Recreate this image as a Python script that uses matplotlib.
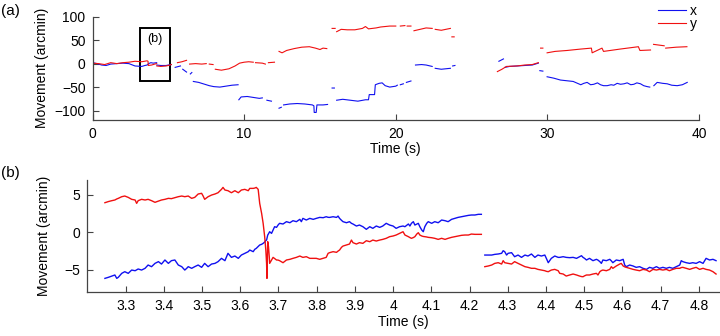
import matplotlib
matplotlib.use('Agg')
import matplotlib.pyplot as plt
import numpy as np
from matplotlib.patches import Rectangle

plt.rcParams['font.family'] = ['Liberation Sans', 'DejaVu Sans']
plt.rcParams['font.size'] = 10

nan = np.nan

# ---- panel (a): whole recording, x / y movement in arcmin (nan = gap)
ta_x = [0, 0.3, 0.6, 0.9, 1.2, 1.6, 2.0, 2.4, 2.8, 3.25, 3.45, 3.6, 3.7, 3.85, 4.0, 4.23, nan,
        4.24, 4.5, 4.85, 5.0, 5.2, nan,
        5.45, 5.8, nan, 5.95, 6.2, nan, 6.45, 6.55, nan,
        6.65, 7.0, 7.3, 7.7, 8.0, 8.4, 8.8, 9.2, 9.6, nan,
        9.65, 9.8, 10.2, 10.6, 11.0, 11.2, nan, 11.5, 11.8, nan, 12.3, 12.45, nan,
        12.6, 13.0, 13.5, 14.0, 14.5, 14.6, 14.62, 14.75, 14.8, 15.2, 15.5, nan,
        15.8, 15.95, nan,
        16.1, 16.5, 17.0, 17.5, 18.0, 18.2, 18.25, 18.6, 18.65, 18.9, 19.1, 19.3, 19.6, 20.0, 20.1, nan,
        20.3, 20.5, nan, 20.7, 21.0, nan,
        21.3, 21.7, 22.0, 22.4, nan, 22.6, 23.0, 23.3, 23.6, nan, 23.75, 23.9, nan,
        26.8, 27.1, nan,
        27.2, 27.5, 28.0, 28.5, 29.0, 29.4, nan, 29.5, 29.7, nan,
        29.98, 30.42, 30.86, 31.7, 32.2, 32.4, 32.62, 32.85, 33.06, 33.3, 33.5, 33.7, 33.94,
        34.2, 34.38, 34.6, 34.82, 35.05, 35.26, 35.5, 35.7, 35.9, 36.14, 36.35, 36.58, 36.75, nan,
        37.02, 37.24, 37.6, 37.9, 38.2, 38.56, 38.9, 39.22]
xa = [2, 0, -3, -4, -1, 0, 1, 0, -5, -6, -4, -3, 0, 2, 1, 2, nan,
      -3, -4, -4, -3, -2, nan,
      -8, -5, nan, -12, -18, nan, -22, -19, nan,
      -38, -40, -43, -47, -49, -50, -48, -46, -45, nan,
      -77, -71, -70, -72, -74, -73, nan, -78, -80, nan, -95, -93, nan,
      -88, -86, -85, -86, -88, -90, -104, -104, -88, -88, -87, nan,
      -52, -52, nan,
      -78, -76, -78, -80, -77, -77, -66, -66, -45, -42, -41, -47, -50, -48, -46, nan,
      -45, -43, nan, -40, -37, nan,
      -3, -2, -3, -6, nan, -10, -12, -11, -10, nan, -5, -4, nan,
      5, 10, nan,
      -8, -6, -5, -4, -3, 1, nan, -15, -16, nan,
      -28, -31, -35, -38, -45, -42, -40, -45, -44, -41, -45, -47, -47,
      -45, -46, -42, -44, -43, -41, -45, -44, -41, -43, -47, -49, -50, nan,
      -47, -40, -42, -43, -46, -47, -45, -40]

ta_y = [0, 0.4, 0.8, 1.2, 1.6, 2.0, 2.4, 2.8, 3.25, 3.6, 3.66, 3.68, 3.9, 4.1, 4.23, nan,
        4.24, 4.5, 4.85, 5.0, 5.2, nan,
        5.6, 5.9, 6.2, nan, 6.4, 6.8, 7.2, 7.5, nan, 7.7, 7.95, nan,
        8.1, 8.5, 9.0, 9.4, 9.7, 10.0, 10.3, 10.6, nan, 10.75, 11.2, 11.4, nan, 11.6, 12.0, nan,
        12.3, 12.5, 12.8, 13.3, 13.8, 14.3, 14.7, 15.0, 15.2, 15.45, nan,
        15.8, 16.0, nan,
        16.1, 16.4, 16.8, 17.3, 17.8, 18.0, 18.2, 18.7, 19.0, 19.3, 19.6, 20.0, nan,
        20.3, 20.6, nan, 20.75, 21.0, nan,
        21.2, 21.6, 22.0, 22.4, nan, 22.6, 23.0, 23.3, 23.6, nan, 23.7, 23.85, nan,
        26.7, 27.0, 27.3, 28.0, 28.5, 29.0, 29.4, nan, 29.55, 29.7, nan,
        29.98, 30.5, 31.3, 32.2, 32.9, 32.95, 33.6, 33.7, 34.8, 36.0, 36.1, 36.8, nan,
        37.0, 37.7, nan, 37.8, 38.5, 39.2]
ya = [1, 0, -2, 2, 0, 2, 3, 5, 4, 6, 5, -4, -3, -1, 0, nan,
      -5, -6, -5, -4, -2, nan,
      2, 4, 7, nan, -1, 0, -1, 0, nan, -1, -2, nan,
      -12, -14, -11, -5, 1, 3, 4, 3, nan, 2, 1, -1, nan, 2, 3, nan,
      26, 23, 28, 32, 35, 36, 33, 30, 33, 32, nan,
      75, 75, nan,
      68, 73, 72, 72, 75, 79, 74, 76, 78, 79, 80, 80, nan,
      80, 81, nan, 80, 80, nan,
      70, 73, 76, 75, nan, 73, 71, 73, 75, nan, 57, 57, nan,
      -17, -12, -6, -5, -3, -2, 2, nan, 33, 33, nan,
      23, 26, 28, 31, 33, 23, 33, 26, 31, 36, 28, 29, nan,
      41, 38, nan, 33, 35, 36]

# ---- panel (b): zoom 3.2 - 4.85 s, two pieces with a gap
tb1 = [3.246, 3.255, 3.264, 3.272, 3.277, 3.281, 3.290, 3.298, 3.307, 3.316, 3.325, 3.329,
       3.333, 3.342, 3.351, 3.359, 3.368, 3.377, 3.386, 3.394, 3.403, 3.412, 3.420, 3.429,
       3.438, 3.447, 3.455, 3.460, 3.464, 3.473, 3.481, 3.490, 3.499, 3.503, 3.507, 3.516,
       3.525, 3.534, 3.542, 3.551, 3.555, 3.560, 3.568, 3.577, 3.586, 3.595, 3.603, 3.612,
       3.621, 3.625, 3.634, 3.638, 3.642, 3.647, 3.651, 3.656, 3.660, 3.664, 3.667, 3.669,
       3.670, 3.672, 3.674, 3.676, 3.677, 3.682, 3.686, 3.690, 3.695, 3.699, 3.703, 3.712,
       3.721, 3.730, 3.738, 3.747, 3.756, 3.760, 3.764, 3.773, 3.782, 3.791, 3.799, 3.808,
       3.817, 3.825, 3.830, 3.834, 3.843, 3.852, 3.856, 3.860, 3.865, 3.869, 3.878, 3.886,
       3.891, 3.895, 3.904, 3.912, 3.921, 3.930, 3.939, 3.947, 3.956, 3.965, 3.973, 3.982,
       3.991, 4.000, 4.008, 4.017, 4.026, 4.031, 4.040, 4.044, 4.048, 4.053, 4.057, 4.062,
       4.066, 4.070, 4.075, 4.079, 4.083, 4.088, 4.092, 4.101, 4.109, 4.118, 4.127, 4.136,
       4.144, 4.153, 4.162, 4.170, 4.179, 4.188, 4.197, 4.205, 4.214, 4.223, 4.231]
xb1 = [-6.14, -6.0, -5.83, -5.69, -6.14, -6.0, -5.47, -5.25, -5.47, -5.03, -5.12, -5.0,
       -4.89, -5.03, -4.80, -4.36, -4.58, -4.14, -3.91, -4.23, -3.69, -4.14, -3.78, -3.69,
       -4.36, -4.58, -5.03, -4.80, -4.58, -4.80, -4.58, -4.36, -4.67, -4.4, -4.14, -4.58,
       -4.23, -4.14, -3.91, -3.47, -3.6, -3.78, -2.80, -3.34, -3.16, -3.47, -3.03, -2.80,
       -2.58, -2.36, -2.58, -2.27, -2.14, -1.9, -1.69, -1.6, -1.47, -1.3, -1.1, -1.03,
       -0.8, -0.36, -0.2, 0.0, 0.08, -0.14, 0.31, 0.75, 0.66, 0.97, 1.20, 1.11,
       1.42, 1.28, 1.55, 1.42, 1.73, 1.42, 1.86, 1.64, 1.86, 1.73, 1.86, 1.99,
       1.95, 2.08, 2.0, 1.99, 2.08, 1.99, 2.17, 1.86, 1.6, 1.42, 1.28, 1.42,
       1.2, 1.11, 0.84, 0.97, 0.75, 0.40, 0.75, 0.53, 0.84, 0.66, 0.84, 1.20,
       0.97, 0.84, 0.53, 0.75, 0.84, 0.75, 1.11, 0.84, 1.20, 1.42, 0.97, 1.1,
       1.20, 0.75, 0.31, 0.08, 0.75, 1.20, 1.42, 1.20, 1.42, 1.28, 1.64, 1.55,
       1.42, 1.73, 1.86, 1.99, 2.08, 2.17, 2.26, 2.31, 2.31, 2.40, 2.40]
yb1 = [3.95, 4.1, 4.22, 4.31, 4.45, 4.53, 4.75, 4.84, 4.66, 4.40, 4.31, 3.86,
       4.22, 4.40, 4.31, 4.40, 4.22, 4.0, 4.17, 4.31, 4.40, 4.53, 4.49, 4.62,
       4.75, 4.84, 4.75, 4.8, 4.84, 4.53, 4.66, 5.11, 5.20, 4.84, 4.40, 4.75,
       4.97, 5.11, 5.28, 5.73, 5.99, 5.64, 5.55, 5.28, 5.55, 5.28, 5.64, 5.73,
       5.55, 5.86, 5.86, 5.9, 5.99, 5.73, 3.86, 2.53, 1.20, -0.58, -2.36, -4.14,
       -6.14, -1.25, -1.92, -3.25, -4.14, -3.69, -3.34, -3.5, -3.69, -3.7, -3.78, -4.05,
       -3.69, -3.60, -3.47, -3.34, -3.16, -3.25, -3.34, -3.25, -3.47, -3.47, -3.47, -3.60,
       -3.47, -3.34, -2.80, -2.71, -2.58, -2.67, -2.5, -2.36, -2.0, -1.83, -1.69, -1.56,
       -1.03, -1.38, -1.56, -1.38, -1.47, -1.12, -1.25, -1.03, -1.16, -1.03, -0.94, -0.80,
       -0.58, -0.49, -0.36, -0.14, 0.08, -0.36, -0.58, -0.7, -0.80, -0.7, -0.58, -0.23,
       -0.05, -0.36, -0.49, -0.55, -0.58, -0.62, -0.67, -0.72, -0.80, -0.94, -0.80, -0.94,
       -0.80, -0.67, -0.58, -0.49, -0.40, -0.36, -0.36, -0.23, -0.27, -0.27, -0.27]

tb2 = [4.240, 4.249, 4.258, 4.266, 4.275, 4.284, 4.288, 4.292, 4.297, 4.301, 4.310, 4.318,
       4.327, 4.336, 4.345, 4.353, 4.362, 4.371, 4.379, 4.388, 4.397, 4.401, 4.406, 4.414,
       4.423, 4.432, 4.436, 4.445, 4.453, 4.462, 4.471, 4.480, 4.488, 4.493, 4.497, 4.501,
       4.506, 4.514, 4.523, 4.532, 4.536, 4.541, 4.545, 4.549, 4.558, 4.567, 4.571, 4.575,
       4.584, 4.593, 4.597, 4.602, 4.606, 4.610, 4.619, 4.628, 4.636, 4.645, 4.654, 4.663,
       4.671, 4.680, 4.689, 4.697, 4.706, 4.715, 4.723, 4.732, 4.741, 4.750, 4.754, 4.758,
       4.767, 4.776, 4.784, 4.793, 4.802, 4.811, 4.819, 4.828, 4.837, 4.845]
xb2 = [-3.03, -3.03, -3.03, -2.94, -2.89, -2.80, -2.45, -2.58, -3.03, -2.80, -2.71, -3.25,
       -3.03, -3.34, -3.03, -3.16, -2.89, -3.34, -3.03, -3.16, -3.03, -3.47, -4.05, -3.47,
       -3.16, -3.34, -3.34, -3.25, -3.34, -3.38, -3.34, -3.47, -3.25, -3.12, -3.34, -3.47,
       -3.69, -3.47, -3.78, -3.60, -3.7, -3.91, -4.14, -3.69, -3.78, -3.60, -3.8, -4.05,
       -3.69, -3.78, -3.7, -3.60, -4.36, -4.58, -4.36, -4.49, -4.67, -4.58, -4.80, -4.94,
       -4.67, -4.80, -4.58, -4.80, -4.67, -4.80, -4.67, -4.80, -4.58, -4.36, -3.78, -3.91,
       -4.05, -4.14, -4.05, -4.14, -3.91, -4.14, -3.47, -3.69, -3.60, -3.78]
yb2 = [-4.58, -4.49, -4.36, -4.14, -4.05, -4.23, -3.78, -4.05, -4.1, -4.14, -4.23, -3.91,
       -4.14, -4.36, -4.58, -4.67, -4.80, -4.80, -4.94, -5.03, -5.12, -5.2, -5.25, -5.03,
       -4.94, -5.12, -5.47, -5.56, -5.83, -5.69, -5.56, -5.69, -5.83, -5.9, -5.92, -5.8,
       -5.69, -5.69, -5.56, -5.47, -5.69, -5.25, -5.1, -5.03, -5.12, -4.94, -4.58, -4.80,
       -4.49, -4.23, -4.14, -4.49, -4.6, -4.67, -4.80, -4.94, -5.03, -5.12, -4.94, -5.03,
       -5.25, -4.94, -5.03, -4.94, -5.03, -4.94, -5.12, -4.94, -4.80, -4.80, -4.7, -4.67,
       -4.80, -4.94, -4.80, -4.67, -4.94, -4.80, -4.94, -5.03, -5.25, -5.56]

xticks_b = [3.3, 3.4, 3.5, 3.6, 3.7, 3.8, 3.9, 4.0, 4.1, 4.2, 4.3, 4.4, 4.5, 4.6, 4.7, 4.8]
xticklabels_b = ['3.3', '3.4', '3.5', '3.6', '3.7', '3.8', '3.9', '4',
                 '4.1', '4.2', '4.3', '4.4', '4.5', '4.6', '4.7', '4.8']

blue = '#1010f0'
red = '#f01010'

fig = plt.figure(figsize=(7.2, 3.36), dpi=100)
ax1 = fig.add_axes([0.1285, 0.643, 0.8424, 0.3074])
ax2 = fig.add_axes([0.1213, 0.130, 0.8785, 0.3348])

for ax in (ax1, ax2):
    for s in ('top', 'right'):
        ax.spines[s].set_visible(False)
    for s in ('left', 'bottom'):
        ax.spines[s].set_color('#444444')
        ax.spines[s].set_linewidth(0.9)
    ax.tick_params(direction='in', length=4, width=0.8, color='#444444',
                   labelsize=10, pad=5)

ax1.plot(ta_x, xa, color=blue, lw=0.8, label='x')
ax1.plot(ta_y, ya, color=red, lw=0.8, label='y')
ax1.set_xlim(0, 40)
ax1.set_ylim(-120, 100)
ax1.set_xticks([0, 10, 20, 30, 40])
ax1.set_yticks([-100, -50, 0, 50, 100])
ax1.set_xlabel('Time (s)', labelpad=1)
ax1.set_ylabel('Movement (arcmin)', labelpad=4)
ax1.add_patch(Rectangle((3.1, -36), 2.0, 111, fill=False, ec='black', lw=1.4))
ax1.text(4.1, 52, '(b)', ha='center', va='center', fontsize=9)
fig.legend(*ax1.get_legend_handles_labels(), loc='upper right',
           bbox_to_anchor=(0.975, 1.005), frameon=False, handlelength=2.0,
           handletextpad=0.25, labelspacing=-0.05, fontsize=10, borderaxespad=0)

ax2.plot(tb1, xb1, color=blue, lw=1.0)
ax2.plot(tb1, yb1, color=red, lw=1.0)
ax2.plot(tb2, xb2, color=blue, lw=1.0)
ax2.plot(tb2, yb2, color=red, lw=1.0)
ax2.set_xlim(3.2, 4.855)
ax2.set_ylim(-8, 7)
ax2.set_xticks(xticks_b)
ax2.set_xticklabels(xticklabels_b)
ax2.set_yticks([-5, 0, 5])
ax2.set_xlabel('Time (s)', labelpad=1)
ax2.set_ylabel('Movement (arcmin)', labelpad=10)

fig.text(0.002, 0.968, '(a)', fontsize=11, va='center')
fig.text(0.002, 0.485, '(b)', fontsize=11, va='center')

fig.savefig('out.png', dpi=100)
